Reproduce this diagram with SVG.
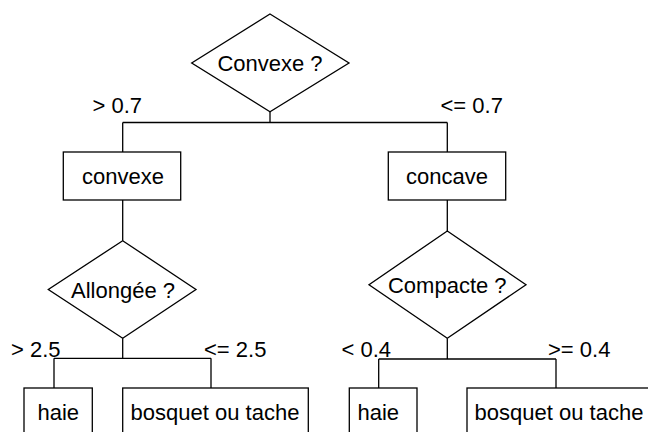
<svg xmlns="http://www.w3.org/2000/svg" width="648" height="432" viewBox="0 0 648 432">
<style>
.s{fill:#fff;stroke:#000;stroke-width:1.3}
.c{fill:none;stroke:#000;stroke-width:1.3}
text{font-family:"Liberation Sans",Arial,sans-serif;font-size:22px;fill:#000}
.m{text-anchor:middle}
</style>
<rect width="648" height="432" fill="#fff"/>
<g id="connectors">
<path class="c" d="M270,111.7V122.5M122.7,122.5H447.3M122.7,122.5V152M447.3,122.5V152"/>
<path class="c" d="M122.7,200V240.7M447.3,200V231"/>
<path class="c" d="M122.7,338.3V358.3M54,358.3H211M54,358.3V388M211,358.3V388"/>
<path class="c" d="M447.3,338.3V359M378.7,359H556M378.7,359V388M556,359V388"/>
<text x="92.5" y="112.5">&gt; 0.7</text>
<text x="440.5" y="112.5">&lt;= 0.7</text>
<text x="11" y="357">&gt; 2.5</text>
<text x="204" y="357">&lt;= 2.5</text>
<text x="341.5" y="357">&lt; 0.4</text>
<text x="548" y="357">&gt;= 0.4</text>
</g>
<g id="n-convexe-q">
<polygon class="s" points="270,14 349,63 270,111.7 191.7,63"/>
<text class="m" x="270" y="70.5">Convexe ?</text>
</g>
<g id="n-convexe">
<rect class="s" x="63.3" y="152" width="117.4" height="48"/>
<text class="m" x="123" y="183.5">convexe</text>
</g>
<g id="n-concave">
<rect class="s" x="388.3" y="152" width="117.4" height="48"/>
<text class="m" x="447" y="183.5">concave</text>
</g>
<g id="n-allongee">
<polygon class="s" points="122.7,240.7 196,289.5 122.7,338.3 48.3,289.5"/>
<text class="m" x="123" y="297.5">Allongée ?</text>
</g>
<g id="n-compacte">
<polygon class="s" points="447.3,231 526,284.7 447.3,338.3 369,284.7"/>
<text class="m" x="447.3" y="293">Compacte ?</text>
</g>
<g id="n-haie1">
<rect class="s" x="24" y="388" width="68.3" height="60"/>
<text class="m" x="58.3" y="420">haie</text>
</g>
<g id="n-bosquet1">
<rect class="s" x="122.7" y="388" width="185.6" height="60"/>
<text class="m" x="215" y="420">bosquet ou tache</text>
</g>
<g id="n-haie2">
<rect class="s" x="349.3" y="388" width="67.7" height="60"/>
<text class="m" x="378.3" y="420">haie</text>
</g>
<g id="n-bosquet2">
<rect class="s" x="467" y="388" width="200" height="60"/>
<text class="m" x="559" y="420">bosquet ou tache</text>
</g>
</svg>
